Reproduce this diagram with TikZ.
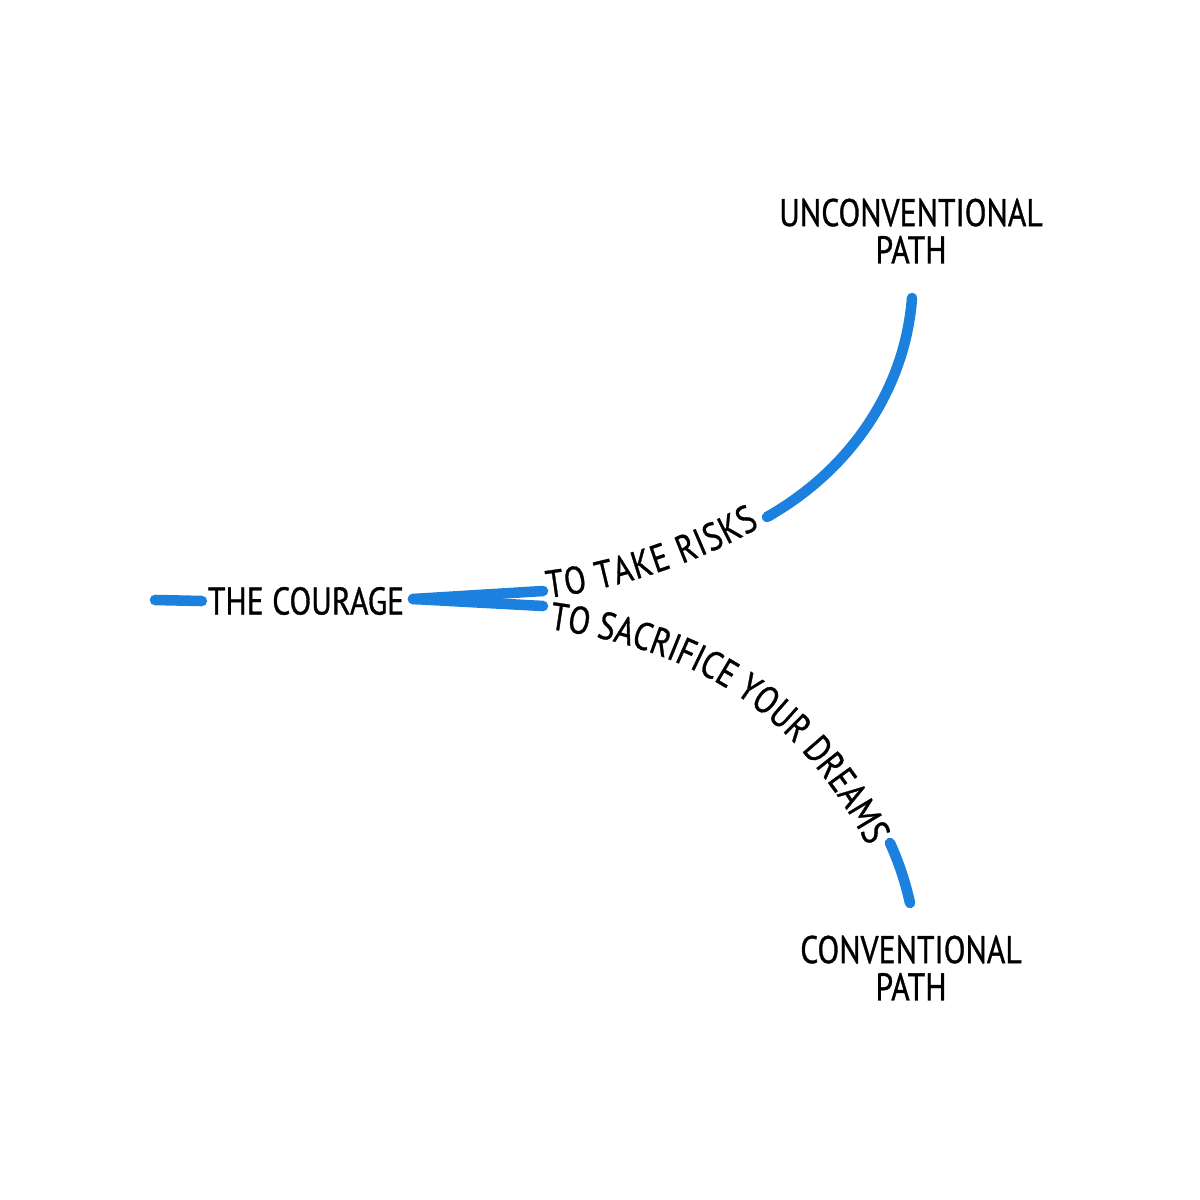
\documentclass[tikz,border=0pt]{standalone}
\usepackage{fontspec}
\setmainfont{PT Sans}[FakeStretch=0.82, FakeBold=0.8]
\usetikzlibrary{decorations.text}
\definecolor{pathblue}{RGB}{28,128,222}
\tikzset{
  bline/.style={draw=pathblue, line width=3pt, line cap=round},
  lbl/.style={font=\fontsize{11}{10.6}\selectfont, inner sep=0pt, align=center, text=black},
}
\begin{document}
\begin{tikzpicture}[x=0.01cm, y=-0.01cm]
\useasboundingbox (0,0) rectangle (1200,1200);
% labels
\node[lbl] (courage) at (306,601) {THE COURAGE};
\node[lbl] (unconv) at (911,231) {UNCONVENTIONAL\\PATH};
\node[lbl] (conv) at (911,968) {CONVENTIONAL\\PATH};
% coordinates
\coordinate (s0) at (155,600);
\coordinate (split) at (413,599);
\coordinate (upA) at (543,591);
\coordinate (loA) at (543,606);
\coordinate (upB) at (767,517);
\coordinate (upC) at (912,298);
\coordinate (loB) at (890,843);
\coordinate (loC) at (910,903);
% connectors
\draw[bline] (s0) -- ([xshift=-1.5pt]courage.west);
\draw[bline] (split) -- (upA);
\draw[bline] (split) -- (loA);
\draw[bline] (upB) .. controls (850,470) and (905,390) .. (upC);
\draw[bline] (loB) .. controls (900,865) and (906,885) .. (loC);
% curved texts
\path[decorate, decoration={text along path, text align={fit to path},
  text={|\fontsize{11}{12}\selectfont|TO TAKE RISKS}}]
  (548,598) .. controls (620,589) and (700,562) .. (760,527);
\path[decorate, decoration={text along path, text align={fit to path},
  text={|\fontsize{11}{12}\selectfont|TO SACRIFICE YOUR DREAMS}}]
  (549,629) .. controls (680,647) and (790,700) .. (867,845);
\end{tikzpicture}
\end{document}
